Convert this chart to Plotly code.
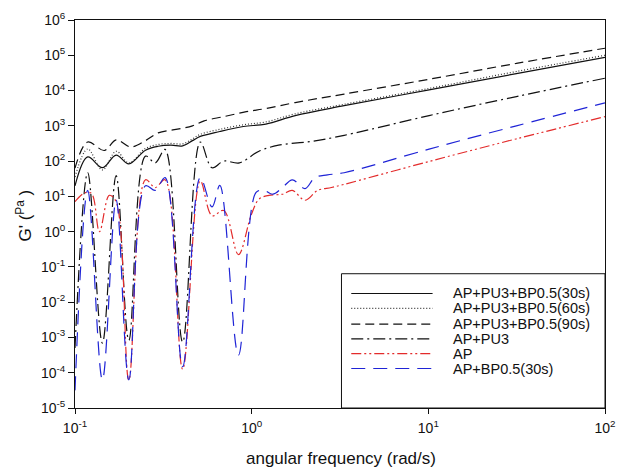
import plotly.graph_objects as go

# ---- data (angular frequency in rad/s, G' in Pa) ----
names = ["AP+PU3+BP0.5(30s)", "AP+PU3+BP0.5(60s)", "AP+PU3+BP0.5(90s)",
         "AP+PU3", "AP", "AP+BP0.5(30s)"]

w_30s = [0.100, 0.1180, 0.1429, 0.1709, 0.2017, 0.2506, 0.2957, 0.3490, 0.4067, 0.4622,
         0.5118, 0.6604, 0.8973, 1.203, 1.764, 3.339, 10.1, 31.5, 100]
g_30s = [20, 132, 65, 148, 83, 204, 263, 282, 269, 380,
         501, 692, 955, 1122, 1950, 3715, 10470, 30200, 87100]

w_60s = [0.100, 0.1180, 0.1429, 0.1709, 0.2017, 0.2506, 0.2957, 0.3490, 0.4067, 0.4622,
         0.5118, 0.6604, 0.8973, 1.203, 1.764, 3.339, 10.1, 31.5, 100]
g_60s = [35.5, 220, 56.2, 190, 89.1, 229, 295, 316, 309, 427,
         575, 794, 1072, 1288, 2188, 4074, 11480, 34670, 100000]

w_90s = [0.100, 0.1180, 0.1466, 0.1709, 0.2069, 0.2506, 0.2957, 0.3964, 0.4622, 0.5385,
         0.6952, 0.9322, 1.203, 1.764, 3.339, 10.1, 31.5, 100]
g_90s = [63.1, 347, 200, 398, 251, 380, 631, 832, 1000, 1380,
         1820, 2512, 3090, 4571, 7943, 20890, 58880, 158500]

w_pu3 = [0.100, 0.1180, 0.1429, 0.1709, 0.2017, 0.2506, 0.2846, 0.3233, 0.4067, 0.5118,
         0.5965, 0.6952, 0.8525, 1.100, 1.420, 2.192, 3.339, 10.1, 31.5, 100]
g_pu3 = [5.0e-4, 46.8, 6.9e-4, 38.9, 8.3e-4, 138, 89.1, 214, 7.4e-4, 347,
         64.6, 100, 89.1, 191, 282, 363, 537, 1950, 6761, 22390]

w_ap = [0.100, 0.1136, 0.1242, 0.1375, 0.1563, 0.1709, 0.2017, 0.2506, 0.2846, 0.3233,
        0.4067, 0.5118, 0.5965, 0.6952, 0.8418, 0.9936, 1.100, 1.250, 1.494, 1.698,
        2.004, 2.366, 2.828, 3.339, 10.1, 31.5, 100]
g_ap = [7.08, 12.6, 12.0, 1.0, 10.7, 7.08, 6.3e-5, 29.5, 17.8, 29.5,
        1.26e-4, 27.5, 2.82, 3.98, 0.224, 2.95, 8.32, 10.7, 11.5, 14.8,
        7.76, 14.8, 17.8, 21.9, 97.7, 426.6, 1820]

w_bp = [0.100, 0.1180, 0.1429, 0.1709, 0.2017, 0.2506, 0.2846, 0.3233, 0.4067, 0.5118,
        0.5965, 0.6604, 0.8418, 1.059, 1.173, 1.315, 1.494, 1.698, 2.004, 2.277,
        2.688, 3.339, 10.1, 31.5, 100]
g_bp = [3.16e-5, 14.8, 6.3e-5, 7.94, 6.3e-5, 20, 14.8, 33.9, 1.48e-4, 33.9,
        5.01, 20.4, 3.16e-4, 12.9, 14.8, 11.5, 17.8, 29.5, 16.6, 33.9,
        40.7, 46.8, 218.8, 1000, 4467]

x_tickvals = [0.1, 1, 10, 100]
x_ticktext = ["10<sup>-1</sup>", "10<sup>0</sup>", "10<sup>1</sup>", "10<sup>2</sup>"]
y_tickvals = [1e-5, 1e-4, 1e-3, 1e-2, 1e-1, 1, 10, 100, 1e3, 1e4, 1e5, 1e6]
y_ticktext = ["10<sup>-5</sup>", "10<sup>-4</sup>", "10<sup>-3</sup>", "10<sup>-2</sup>",
              "10<sup>-1</sup>", "10<sup>0</sup>", "10<sup>1</sup>", "10<sup>2</sup>",
              "10<sup>3</sup>", "10<sup>4</sup>", "10<sup>5</sup>", "10<sup>6</sup>"]

series = [(w_30s, g_30s), (w_60s, g_60s), (w_90s, g_90s),
          (w_pu3, g_pu3), (w_ap, g_ap), (w_bp, g_bp)]
colors = ["#111111", "#333333", "#111111", "#111111", "#e32b2b", "#1f24d6"]
dashes = ["solid", "1px,2px", "9px,5px", "12px,4px,2px,4px",
          "10px,3px,2px,3px,2px,3px", "14px,8px"]

FONT = "Liberation Sans, Arial, sans-serif"

fig = go.Figure()
for (w, g), name, c, d in zip(series, names, colors, dashes):
    fig.add_trace(go.Scatter(x=w, y=g, mode="lines", name=name,
                             line=dict(color=c, width=1.2, dash=d, shape="spline", smoothing=1.0),
                             showlegend=False))

# ---- custom legend box (matches reference compact layout) ----
L, T, W, H = 75, 15, 541, 393
def px2x(px):
    return (px - L) / W
def py2y(py):
    return (T + H - py) / H

shapes = [dict(type="rect", xref="paper", yref="paper",
               x0=px2x(347), x1=1.0, y0=0.0, y1=py2y(272),
               line=dict(color="#111111", width=1), fillcolor="white", layer="above")]
annotations = []
row_y = [292, 307, 323, 338, 353, 368]
for ry, name, c, d in zip(row_y, names, colors, dashes):
    shapes.append(dict(type="line", xref="paper", yref="paper",
                       x0=px2x(357), x1=px2x(440), y0=py2y(ry), y1=py2y(ry),
                       line=dict(color=c, width=1.2, dash=d), layer="above"))
    annotations.append(dict(xref="paper", yref="paper", x=px2x(460), y=py2y(ry),
                            text=name, showarrow=False, xanchor="left", yanchor="middle",
                            borderpad=0,
                            font=dict(family=FONT, size=14.5, color="#111111")))

# axis titles
annotations.append(dict(xref="paper", yref="paper", x=px2x(347), y=py2y(459),
                        text="angular frequency (rad/s)", showarrow=False,
                        xanchor="center", yanchor="middle",
                        font=dict(family=FONT, size=17, color="#111111")))
annotations.append(dict(xref="paper", yref="paper", x=px2x(23), y=py2y(213),
                        text="G' (<sup>Pa</sup> )", showarrow=False, textangle=-90,
                        xanchor="center", yanchor="middle",
                        font=dict(family=FONT, size=17, color="#111111")))

fig.update_layout(
    width=626, height=473,
    margin=dict(l=L, r=10, t=T, b=65),
    paper_bgcolor="white", plot_bgcolor="white",
    font=dict(family=FONT, color="#111111"),
    shapes=shapes, annotations=annotations,
    showlegend=False,
)
fig.update_xaxes(type="log", range=[-1, 2], tickvals=x_tickvals, ticktext=x_ticktext,
                 showgrid=False, zeroline=False, showline=True, mirror=True,
                 linecolor="#111111", linewidth=1, ticks="outside", ticklen=5,
                 tickcolor="#111111", tickfont=dict(size=14, family=FONT),
                 ticklabelstandoff=2)
fig.update_yaxes(type="log", range=[-5, 6], tickvals=y_tickvals, ticktext=y_ticktext,
                 showgrid=False, zeroline=False, showline=True, mirror=True,
                 linecolor="#111111", linewidth=1, ticks="outside", ticklen=6,
                 tickcolor="#111111", tickfont=dict(size=14, family=FONT))

fig.write_html("out.html", config={"displayModeBar": False},
               post_script="document.body.style.margin='0';document.body.style.padding='0';"
                           "document.documentElement.style.overflow='hidden';")
